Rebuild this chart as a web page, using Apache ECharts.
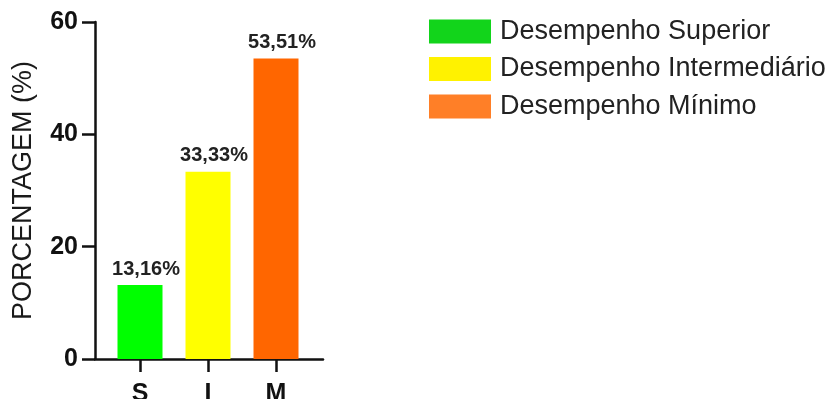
<!DOCTYPE html>
<html>
<head>
<meta charset="utf-8">
<script src="https://cdn.jsdelivr.net/npm/echarts@6/dist/echarts.min.js"></script>
<style>
  html, body { margin: 0; padding: 0; background: #fff; }
  #chart { width: 835px; height: 399px; }
</style>
</head>
<body>
<div id="chart"></div>
<script>
// Performance levels: share of respondents per level
const categories = ['S', 'I', 'M'];
const seriesNames = ['Desempenho Superior', 'Desempenho Intermediário', 'Desempenho Mínimo'];
const values = [13.16, 33.33, 53.51];
const barColors = ['#00ff00', '#ffff00', '#ff6600'];
const legendColors = ['#12d41b', '#fff200', '#ff7f27'];
const yTicks = [0, 20, 40, 60];

const FONT = '"Liberation Sans", Arial, sans-serif';
const INK = '#111';

const chart = echarts.init(document.getElementById('chart'), null, { renderer: 'canvas' });

// One series per level, each filling only its own category
const series = seriesNames.map((name, i) => ({
  name,
  type: 'bar',
  xAxisIndex: 0,
  yAxisIndex: 0,
  stack: 'levels',
  barWidth: 45,
  data: categories.map((c, j) => (j === i ? values[i] : null)),
  itemStyle: { color: barColors[i] },
  label: {
    show: true,
    position: 'top',
    distance: 6,
    offset: [6, 0],
    fontFamily: FONT,
    fontWeight: 'bold',
    fontSize: 20,
    color: '#222',
    formatter: p => p.value.toFixed(2).replace('.', ',') + '%'
  }
}));

chart.setOption({
  animation: false,
  backgroundColor: '#fff',
  grid: [
    { left: 106, top: 22, width: 204, height: 337, outerBoundsMode: 'none', containLabel: false },
    { left: 95, top: 22, width: 228, height: 337, outerBoundsMode: 'none', containLabel: false }
  ],
  legend: {
    orient: 'vertical',
    left: 424,
    top: 13,
    itemWidth: 62,
    itemHeight: 24,
    itemGap: 10.5,
    icon: 'rect',
    selectedMode: false,
    data: seriesNames.map((name, i) => ({ name, itemStyle: { color: legendColors[i] } })),
    textStyle: {
      fontFamily: FONT,
      fontSize: 27,
      color: '#222',
      padding: [0, 0, 0, 4]
    }
  },
  xAxis: [
    {
      type: 'category',
      gridIndex: 0,
      data: categories,
      axisLine: { show: false },
      axisTick: { show: true, alignWithLabel: true, length: 13, lineStyle: { color: INK, width: 2.5 } },
      axisLabel: { margin: 23, fontFamily: FONT, fontWeight: 'bold', fontSize: 25, color: INK }
    },
    {
      type: 'value',
      gridIndex: 1,
      min: 0,
      max: 1,
      axisLine: { show: true, onZero: false, lineStyle: { color: INK, width: 2.5 } },
      axisTick: { show: false },
      axisLabel: { show: false },
      splitLine: { show: false }
    }
  ],
  yAxis: [
    {
      type: 'value',
      gridIndex: 0,
      min: yTicks[0],
      max: yTicks[yTicks.length - 1],
      interval: 20,
      show: false
    },
    {
      type: 'value',
      gridIndex: 1,
      min: yTicks[0],
      max: yTicks[yTicks.length - 1],
      interval: 20,
      name: 'PORCENTAGEM (%)',
      nameLocation: 'middle',
      nameGap: 58,
      nameTextStyle: { fontFamily: FONT, fontSize: 27, color: '#1a1a1a' },
      axisLine: { show: true, lineStyle: { color: INK, width: 2.5 } },
      axisTick: { show: true, length: 13, lineStyle: { color: INK, width: 2.5 } },
      axisLabel: {
        margin: 17,
        fontFamily: FONT,
        fontWeight: 'bold',
        fontSize: 25,
        color: INK,
        formatter: v => (yTicks.includes(v) ? String(v) : '')
      },
      splitLine: { show: false }
    }
  ],
  series
});
</script>
</body>
</html>
